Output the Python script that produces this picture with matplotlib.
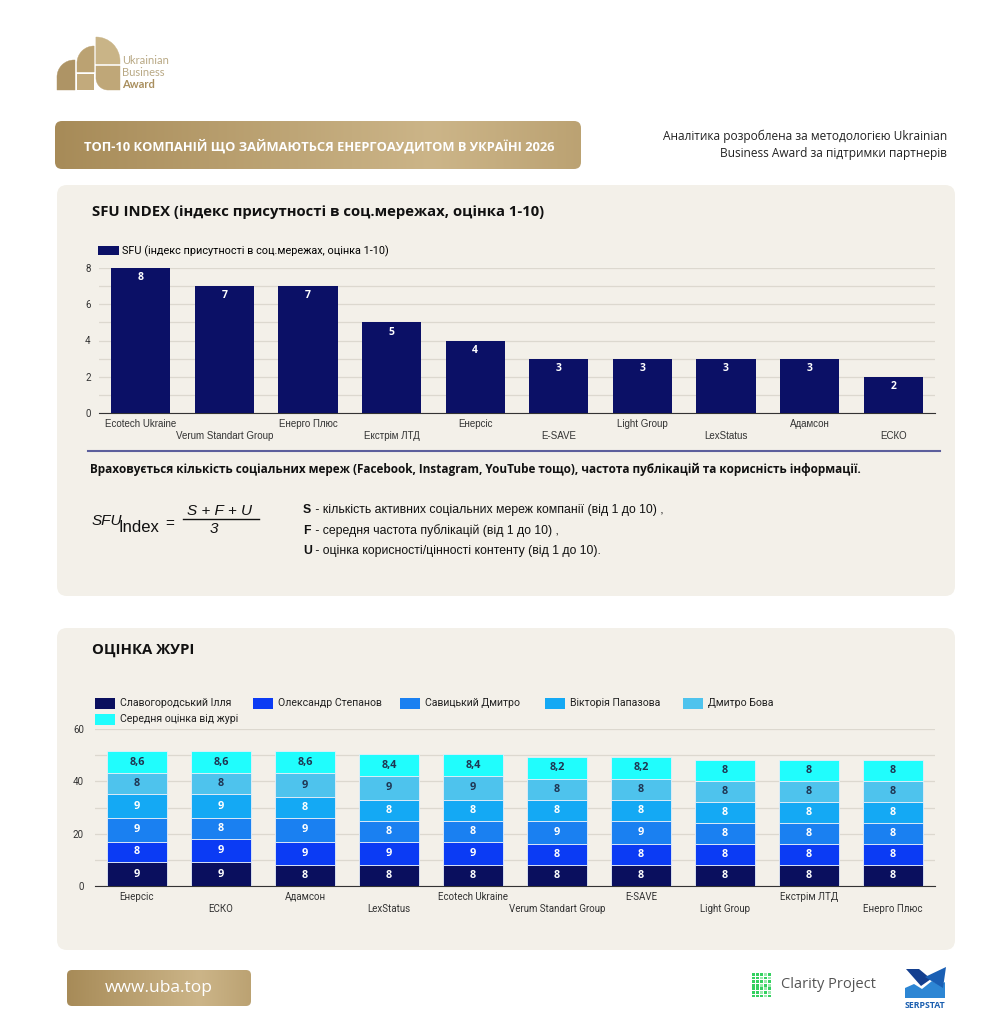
import numpy as np
import matplotlib.pyplot as plt
from matplotlib.patches import FancyBboxPatch, Rectangle, Wedge, Polygon

W, H = 1004, 1024

# --- data ---
sfu_companies = ['Ecotech Ukraine', 'Verum Standart Group', 'Енерго Плюс', 'Екстрім ЛТД', 'Енерсіс',
                 'E-SAVE', 'Light Group', 'LexStatus', 'Адамсон', 'ЕСКО']
sfu_values = [8, 7, 7, 5, 4, 3, 3, 3, 3, 2]
sfu_label = 'SFU (індекс присутності в соц.мережах, оцінка 1-10)'

jury_companies = ['Енерсіс', 'ЕСКО', 'Адамсон', 'LexStatus', 'Ecotech Ukraine', 'Verum Standart Group',
                  'E-SAVE', 'Light Group', 'Екстрім ЛТД', 'Енерго Плюс']
jurors = ['Славогородський Ілля', 'Олександр Степанов', 'Савицький Дмитро', 'Вікторія Папазова',
          'Дмитро Бова', 'Середня оцінка від журі']
slavohorodskyi = [9, 9, 8, 8, 8, 8, 8, 8, 8, 8]
stepanov = [8, 9, 9, 9, 9, 8, 8, 8, 8, 8]
savytskyi = [9, 8, 9, 8, 8, 9, 9, 8, 8, 8]
papazova = [9, 9, 8, 8, 8, 8, 8, 8, 8, 8]
bova = [8, 8, 9, 9, 9, 8, 8, 8, 8, 8]
average = [8.6, 8.6, 8.6, 8.4, 8.4, 8.2, 8.2, 8, 8, 8]

navy = '#0b1066'
jury_colors = ['#0a0f5e', '#0b3bf4', '#1a80f1', '#14a9f4', '#4ec3ed', '#20fdfd']
jury_text = ['white', 'white', 'white', 'white', '#1f3552', '#1f3552']
panel_color = '#f3f0e9'
grid_color = '#dcd8cf'

plt.rcParams['font.family'] = ['Roboto', 'DejaVu Sans']

fig = plt.figure(figsize=(W / 100, H / 100), dpi=100)
fig.patch.set_facecolor('white')

bg = fig.add_axes([0, 0, 1, 1], zorder=0)
bg.set_axis_off()


def frect(l, t, r, b):
    return [l / W, 1 - b / H, (r - l) / W, (b - t) / H]


def gold_box(x0, y0, x1, y1, r):
    patch = FancyBboxPatch((x0, y0), x1 - x0, y1 - y0,
                           boxstyle=f'round,pad=0,rounding_size={r}',
                           fc='none', ec='none')
    bg.add_patch(patch)
    t = np.linspace(0, 1, 300)
    k = np.interp(t, [0, 0.72, 1], [0, 1, 0.55])
    dark = np.array([0.655, 0.545, 0.345])
    light = np.array([0.800, 0.710, 0.535])
    img = dark[None, :] + k[:, None] * (light - dark)[None, :]
    bg.imshow(img[None, :, :], extent=(x0, x1, y1, y0), aspect='auto',
              clip_path=patch, interpolation='bilinear')


def round_block(x0, y0, x1, y1, corner, r, color):
    # rectangle with one quarter-circle corner
    w, h = x1 - x0, y1 - y0
    if corner == 'tl':
        bg.add_patch(Wedge((x0 + r, y0 + r), r, 180, 270, fc=color, ec=color, lw=0.3))
        bg.add_patch(Rectangle((x0 + r, y0), w - r, h, fc=color, ec=color, lw=0.3))
        bg.add_patch(Rectangle((x0, y0 + r), r, h - r, fc=color, ec=color, lw=0.3))
    elif corner == 'tr':
        bg.add_patch(Wedge((x1 - r, y0 + r), r, 270, 360, fc=color, ec=color, lw=0.3))
        bg.add_patch(Rectangle((x0, y0), w - r, h, fc=color, ec=color, lw=0.3))
        bg.add_patch(Rectangle((x1 - r, y0 + r), r, h - r, fc=color, ec=color, lw=0.3))
    elif corner == 'bl':
        bg.add_patch(Wedge((x0 + r, y1 - r), r, 90, 180, fc=color, ec=color, lw=0.3))
        bg.add_patch(Rectangle((x0 + r, y0), w - r, h, fc=color, ec=color, lw=0.3))
        bg.add_patch(Rectangle((x0, y0), r, h - r, fc=color, ec=color, lw=0.3))
    else:
        bg.add_patch(Rectangle((x0, y0), w, h, fc=color, ec='none'))


# panels
for (x0, y0, x1, y1) in [(57, 185, 955, 596), (57, 628, 955, 950)]:
    bg.add_patch(FancyBboxPatch((x0, y0), x1 - x0, y1 - y0,
                                boxstyle='round,pad=0,rounding_size=10',
                                fc=panel_color, ec='none'))

# logo
round_block(57, 60, 75, 90, 'tl', 17, '#ae9465')
round_block(77, 46, 94, 72, 'tl', 17, '#bba272')
round_block(77, 74, 94, 90, 'sq', 0, '#c2aa7c')
round_block(96, 37, 120, 64, 'tr', 24, '#c9b487')
round_block(96, 66, 120, 90, 'bl', 12, '#bfa778')
bg.text(122, 61, 'Ukrainian', fontsize=8, color='#b9a985', va='center', family='Lato')
bg.text(122, 73, 'Business', fontsize=8, color='#b9a985', va='center', family='Lato')
bg.text(122, 85, 'Award', fontsize=8, color='#a98f5e', va='center', fontweight='bold', family='Lato')

# title banner
gold_box(55, 121, 581, 169, 7)
bg.text(319, 146, 'ТОП-10 КОМПАНІЙ ЩО ЗАЙМАЮТЬСЯ ЕНЕРГОАУДИТОМ В УКРАЇНІ 2026', fontsize=9.3,
        color='white', fontweight='bold', ha='center', va='center', family='Open Sans')

bg.text(947, 136, 'Аналітика розроблена за методологією Ukrainian', fontsize=8.6, color='#222',
        ha='right', va='center', family='Open Sans')
bg.text(947, 154, 'Business Award за підтримки партнерів', fontsize=8.6, color='#222',
        ha='right', va='center', family='Open Sans')

# panel 1 texts
bg.text(92, 212, 'SFU INDEX (індекс присутності в соц.мережах, оцінка 1-10)', fontsize=10.7,
        fontweight='bold', color='#111', va='center', family='Open Sans')
bg.plot([88, 940], [451, 451], color='#5c5f9c', lw=1.5)
bg.text(90, 469, 'Враховується кількість соціальних мереж (Facebook, Instagram, YouTube тощо), '
        'частота публікацій та корисність інформації.', fontsize=8.45, fontweight='bold',
        color='#111', va='center', family='Open Sans')

ff = ['Liberation Sans Narrow', 'Liberation Sans', 'DejaVu Sans']
bg.text(92, 521, 'SFU', fontsize=11, style='italic', color='#111', va='center', family=ff)
bg.text(119, 528, 'Index', fontsize=12, color='#111', va='center', family=ff)
bg.text(165, 524, '=', fontsize=11, color='#111', va='center', family=ff)
bg.text(220, 511, 'S + F + U', fontsize=11, style='italic', color='#111', va='center', ha='center', family=ff)
bg.plot([183, 259], [519, 519], color='#111', lw=1)
bg.text(214, 529, '3', fontsize=11, style='italic', color='#111', va='center', ha='center', family=ff)

defs = [('S', ' - кількість активних соціальних мереж компанії (від 1 до 10) ,', 510),
        ('F', ' - середня частота публікацій (від 1 до 10) ,', 531),
        ('U', ' - оцінка корисності/цінності контенту (від 1 до 10).', 551)]
for letter, rest, y in defs:
    bg.text(303, y, letter, fontsize=8.8, fontweight='bold', color='#111', va='center', family=ff)
    bg.text(312, y, rest, fontsize=8.8, color='#111', va='center', family=ff)

# panel 2 title
bg.text(92, 650, 'ОЦІНКА ЖУРІ', fontsize=10.7, fontweight='bold', color='#111', va='center',
        family='Open Sans')

# bottom
gold_box(67, 970, 251, 1006, 5)
bg.text(159, 988, 'www.uba.top', fontsize=12.5, color='white', ha='center', va='center',
        family='Open Sans')

# clarity project logo
for i in range(7):
    for j in range(5):
        shade = '#34d160' if (i + j) % 2 == 0 or j < 2 else '#9ee8b0'
        bg.add_patch(Rectangle((752 + j * 4, 973 + i * 3.6), 3, 2.8, fc=shade, ec='none'))
bg.text(781, 985, 'Clarity Project', fontsize=10.5, color='#555', va='center', family='Open Sans')

# serpstat logo
bg.add_patch(Polygon([(905, 998), (905, 988), (914, 984), (922, 989), (932, 981), (940, 985),
                      (945, 982), (945, 998)], fc='#2d86d4', ec='none'))
bg.add_patch(Polygon([(906, 969), (919, 969), (931, 979), (921, 986)], fc='#143f8f', ec='none'))
bg.add_patch(Polygon([(925, 977), (946, 967), (943, 988)], fc='#1a5fb4', ec='none'))
bg.text(925, 1006, 'SERPSTAT', fontsize=6.3, fontweight='bold', color='#1b5fb0', ha='center',
        va='center', family='Open Sans')

# --- chart 1 ---
ax1 = fig.add_axes(frect(99, 268, 935, 413), zorder=1)
ax1.set_facecolor('none')
x = np.arange(len(sfu_companies))
bars = ax1.bar(x, sfu_values, width=0.71, color=navy, label=sfu_label, zorder=3)
ax1.set_xlim(-0.5, len(sfu_companies) - 0.5)
ax1.set_ylim(0, 8)
ax1.set_yticks([0, 2, 4, 6, 8])
ax1.set_yticks(np.arange(0, 9, 1), minor=True)
ax1.grid(True, axis='y', which='both', color=grid_color, lw=0.9, zorder=0)
for s in ['top', 'right', 'left']:
    ax1.spines[s].set_visible(False)
ax1.spines['bottom'].set_color('#333')
ax1.tick_params(axis='both', which='both', length=0, labelsize=7, labelcolor='#333')
ax1.tick_params(axis='y', pad=6)
ax1.set_xticks(x)
ax1.set_xticklabels(sfu_companies, family=ff)
for i, tk in enumerate(ax1.xaxis.get_major_ticks()):
    tk.set_pad(4 if i % 2 == 0 else 13)
for b, v in zip(bars, sfu_values):
    ax1.annotate(f'{v}', (b.get_x() + b.get_width() / 2, v), xytext=(0, -3),
                 textcoords='offset points', ha='center', va='top', color='white',
                 fontsize=7.5, fontweight='bold', family='Open Sans')
ax1.legend(loc='center left', bbox_to_anchor=(98, 251), bbox_transform=bg.transData,
           frameon=False, fontsize=7.8, handlelength=1.9, handleheight=0.85, handletextpad=0.35,
           borderpad=0, borderaxespad=0)

# --- chart 2 ---
ax2 = fig.add_axes(frect(95, 729, 935, 886), zorder=1)
ax2.set_facecolor('none')
x2 = np.arange(len(jury_companies))
series = [slavohorodskyi, stepanov, savytskyi, papazova, bova, average]
bottom = np.zeros(len(jury_companies))
for name, vals, col, tcol in zip(jurors, series, jury_colors, jury_text):
    vals = np.array(vals, dtype=float)
    bc = ax2.bar(x2, vals, bottom=bottom, width=0.71, color=col, edgecolor='#e6eef8',
                 linewidth=0.6, label=name, zorder=3)
    labels = [f'{v:g}'.replace('.', ',') for v in vals]
    ax2.bar_label(bc, labels=labels, label_type='center', color=tcol, fontsize=7.8,
                  fontweight='bold', family='Open Sans')
    bottom += vals
ax2.set_xlim(-0.5, len(jury_companies) - 0.5)
ax2.set_ylim(0, 60)
ax2.set_yticks([0, 20, 40, 60])
ax2.set_yticks(np.arange(0, 61, 10), minor=True)
ax2.grid(True, axis='y', which='both', color=grid_color, lw=0.9, zorder=0)
for s in ['top', 'right', 'left']:
    ax2.spines[s].set_visible(False)
ax2.spines['bottom'].set_color('#333')
ax2.tick_params(axis='both', which='both', length=0, labelsize=7, labelcolor='#333')
ax2.tick_params(axis='y', pad=8)
ax2.set_xticks(x2)
ax2.set_xticklabels(jury_companies)
for i, tk in enumerate(ax2.xaxis.get_major_ticks()):
    tk.set_pad(4 if i % 2 == 0 else 13)

# legend of chart 2 (two rows like the original)
leg_pos = [(95, 703), (253, 703), (400, 703), (545, 703), (683, 703), (95, 719)]
for (lx, ly), name, col in zip(leg_pos, jurors, jury_colors):
    bg.add_patch(Rectangle((lx, ly - 5.5), 20, 11, fc=col, ec='none'))
    bg.text(lx + 25, ly, name, fontsize=7.6, color='#222', va='center')

bg.set_xlim(0, W)
bg.set_ylim(H, 0)

fig.savefig('out.png', dpi=100, facecolor='white')
